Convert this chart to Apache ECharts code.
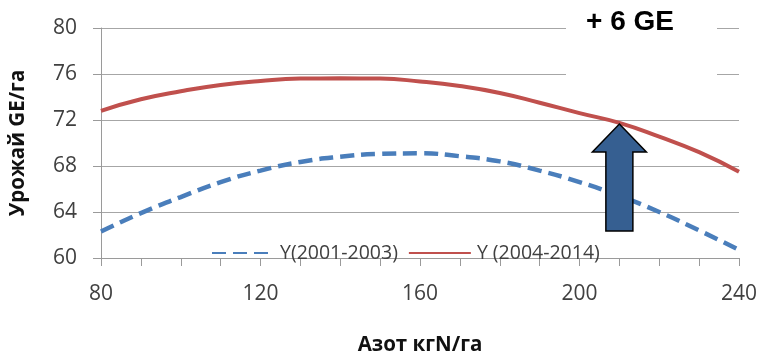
<!DOCTYPE html>
<html>
<head>
<meta charset="utf-8">
<script src="https://cdn.jsdelivr.net/npm/echarts@6/dist/echarts.min.js"></script>
<style>
html,body{margin:0;padding:0;background:#fff;}
#chart{width:759px;height:353px;}
</style>
</head>
<body>
<div id="chart"></div>
<script>
const nitrogen = [80, 90, 100, 110, 120, 130, 140, 150, 160, 170, 180, 190, 200, 210, 220, 230, 240];
const yield2001 = [62.3, 63.9, 65.3, 66.6, 67.6, 68.35, 68.8, 69.05, 69.1, 68.85, 68.4, 67.6, 66.6, 65.4, 64.0, 62.4, 60.7];
const yield2004 = [72.8, 73.8, 74.5, 75.05, 75.4, 75.6, 75.62, 75.6, 75.35, 74.95, 74.35, 73.5, 72.6, 71.75, 70.55, 69.2, 67.5];
const seriesNames = ['Y(2001-2003)', 'Y (2004-2014)'];
const arrowData = [[210, 71.65, 62.35]];
const annotationText = '+ 6 GE';
const xName = 'Азот кгN/га';
const yName = 'Урожай GE/га';

const pairs = (xs, ys) => xs.map((x, i) => [x, ys[i]]);
const labelFont = {fontFamily: 'Open Sans', fontSize: 21, color: '#404040'};

const chart = echarts.init(document.getElementById('chart'));
chart.setOption({
  animation: false,
  backgroundColor: '#fff',
  grid: {left: 101, right: 20, top: 28, bottom: 95, containLabel: false, outerBoundsMode: 'none'},
  legend: {
    data: seriesNames,
    left: 206,
    top: 238,
    itemWidth: 62,
    itemHeight: 20,
    itemGap: 10,
    itemStyle: {opacity: 0},
    textStyle: {fontFamily: 'Open Sans', fontSize: 19.5, color: '#404040', padding: [0, 0, 0, 1]}
  },
  xAxis: {
    type: 'value',
    min: 80, max: 240, interval: 40,
    name: xName,
    nameLocation: 'middle',
    nameGap: 77,
    nameTextStyle: {fontFamily: 'Open Sans', fontSize: 20.5, fontWeight: 'bold', color: '#111'},
    axisLine: {show: true, lineStyle: {color: '#9a9a9a', width: 1}},
    axisTick: {show: true, length: 8, lineStyle: {color: '#9a9a9a'}},
    minorTick: {show: true, splitNumber: 4, length: 8, lineStyle: {color: '#9a9a9a'}},
    axisLabel: Object.assign({margin: 26}, labelFont),
    splitLine: {show: false}
  },
  yAxis: {
    type: 'value',
    min: 60, max: 80, interval: 4,
    name: yName,
    nameLocation: 'middle',
    nameGap: 72,
    nameTextStyle: {fontFamily: 'Open Sans', fontSize: 20.5, fontWeight: 'bold', color: '#111'},
    axisLine: {show: true, lineStyle: {color: '#9a9a9a', width: 1}},
    axisTick: {show: true, length: 8, lineStyle: {color: '#9a9a9a'}},
    axisLabel: Object.assign({margin: 24}, labelFont),
    splitLine: {show: true, lineStyle: {color: '#a6a6a6', width: 1}}
  },
  graphic: [
    {type: 'rect', z: 1, shape: {x: 566, y: 0, width: 151, height: 90}, style: {fill: '#fff'}},
    {type: 'text', z: 1, x: 586, y: 22, style: {text: annotationText, fontFamily: 'Liberation Sans', fontWeight: 'bold', fontSize: 28, fill: '#000', verticalAlign: 'middle'}}
  ],
  series: [
    {
      name: seriesNames[0], type: 'line', smooth: true, symbol: 'none',
      data: pairs(nitrogen, yield2001),
      lineStyle: {color: '#4A7EBB', width: 4.5, type: [14, 7]},
      itemStyle: {color: '#4A7EBB'}
    },
    {
      name: seriesNames[1], type: 'line', smooth: true, symbol: 'none',
      data: pairs(nitrogen, yield2004),
      lineStyle: {color: '#C0504D', width: 4},
      itemStyle: {color: '#C0504D'}
    },
    {
      name: 'arrow', type: 'custom', z: 5,
      data: arrowData,
      renderItem: function (params, api) {
        const top = api.coord([api.value(0), api.value(1)]);
        const bot = api.coord([api.value(0), api.value(2)]);
        const cx = top[0], ty = top[1], by = bot[1];
        const hw = 27, sw = 13.5, hh = 28;
        return {
          type: 'polygon',
          shape: {points: [[cx, ty], [cx + hw, ty + hh], [cx + sw, ty + hh], [cx + sw, by], [cx - sw, by], [cx - sw, ty + hh], [cx - hw, ty + hh]]},
          style: {fill: '#365F91', stroke: '#000', lineWidth: 1.5}
        };
      }
    }
  ]
});
</script>
</body>
</html>
